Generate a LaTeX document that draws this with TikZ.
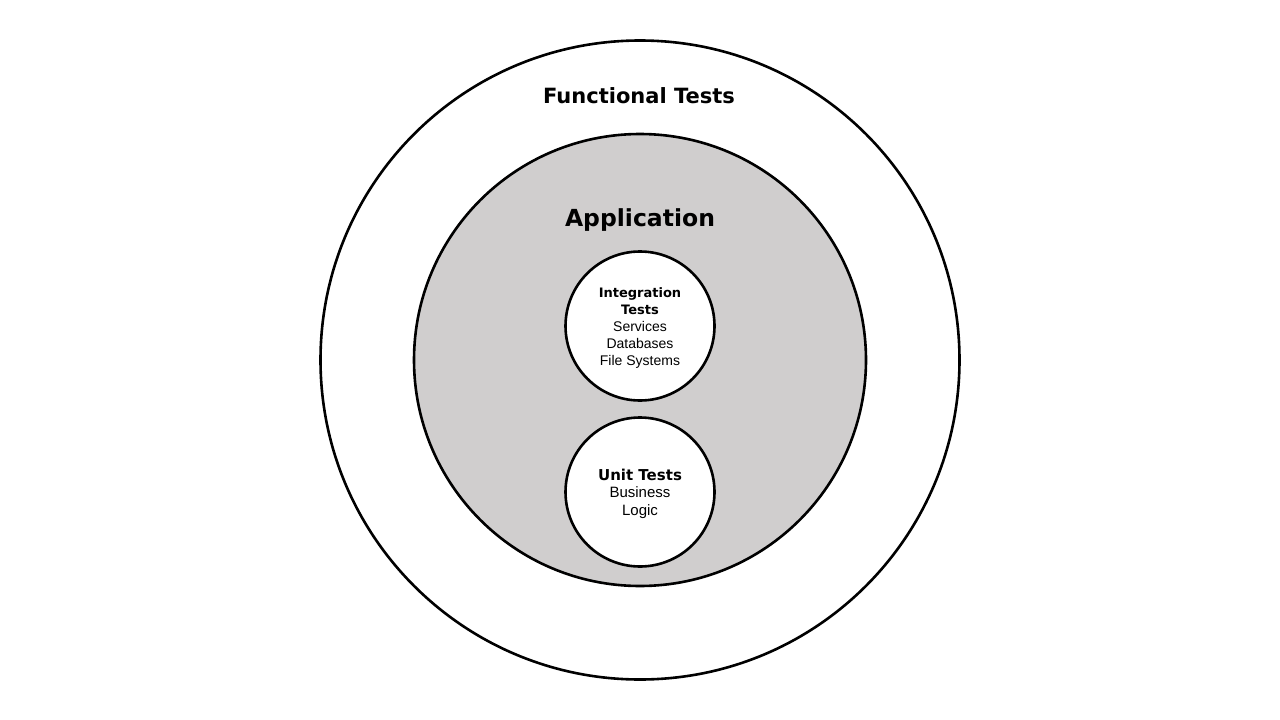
\documentclass[tikz,border=0pt]{standalone}
\usepackage{fontspec}
\setmainfont{Liberation Sans}
\newfontfamily\headfont{DejaVu Sans}
\usetikzlibrary{positioning}
\definecolor{appgray}{HTML}{D0CECE}
\newcommand\cellhead[2][13]{{\headfont\bfseries\fontsize{#1}{17}\selectfont #2}}
\tikzset{
  ring/.style={circle, draw=black, line width=2.6pt, inner sep=0pt},
  headtext/.style={inner sep=0pt},
  celltext/.style={align=center, font=\fontsize{14}{17}\selectfont, inner sep=0pt}
}

\begin{document}
\begin{tikzpicture}[x=1pt, y=-1pt]
  \useasboundingbox[fill=white] (0,0) rectangle (1280,720);

  %% rings
  \node[ring, fill=white, minimum size=639pt] (functional) at (640,360) {};
  \node[ring, fill=appgray, minimum size=452pt] (app) at (640,360) {};
  \node[ring, fill=white, minimum size=149pt] (integration) at (640,326) {};
  \node[ring, fill=white, minimum size=149pt] (unit) at (640,492) {};

  %% titles
  \node[headtext, font=\headfont\bfseries\fontsize{21}{24}\selectfont] (functitle) at (639,96) {Functional Tests};
  \node[headtext, font=\headfont\bfseries\fontsize{23.5}{26}\selectfont] (apptitle) at (640,220) {Application};

  %% inner texts
  \node[celltext] (inttext) at ([yshift=-2pt]integration.center) {%
    \cellhead{Integration}\\\cellhead{Tests}\\Services\\Databases\\File Systems};
  \node[celltext, font=\fontsize{15}{17.5}\selectfont] (unittext) at ([yshift=-1.5pt]unit.center) {%
    \cellhead[15]{Unit Tests}\\Business\\Logic};
\end{tikzpicture}
\end{document}
